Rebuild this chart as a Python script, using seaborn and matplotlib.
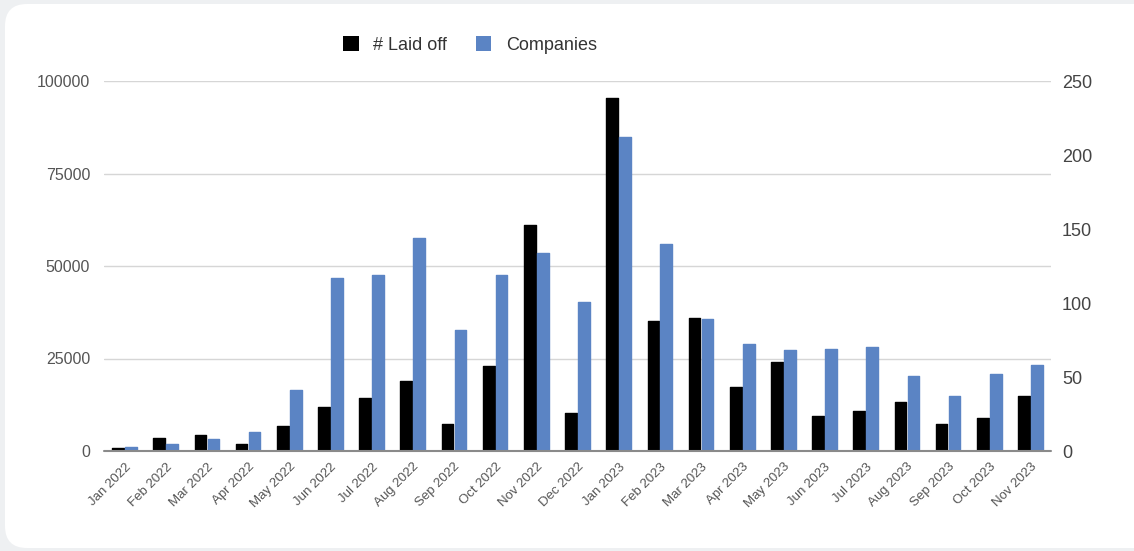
import pandas as pd
import seaborn as sns
import matplotlib.pyplot as plt
from matplotlib.patches import FancyBboxPatch, Patch

sns.set_theme(style="white")
plt.rcParams["font.family"] = ["Liberation Sans", "DejaVu Sans"]

months = ["Jan 2022", "Feb 2022", "Mar 2022", "Apr 2022", "May 2022", "Jun 2022",
          "Jul 2022", "Aug 2022", "Sep 2022", "Oct 2022", "Nov 2022", "Dec 2022",
          "Jan 2023", "Feb 2023", "Mar 2023", "Apr 2023", "May 2023", "Jun 2023",
          "Jul 2023", "Aug 2023", "Sep 2023", "Oct 2023", "Nov 2023"]
laid_off = [700, 3400, 4300, 1800, 6700, 11900, 14400, 18900, 7400, 23100, 61200, 10400,
            95400, 35100, 36000, 17200, 24100, 9500, 10700, 13200, 7400, 8800, 14800]
companies = [3, 5, 8, 13, 41, 117, 119, 144, 82, 119, 134, 101,
             212, 140, 89, 72, 68, 69, 70, 51, 37, 52, 58]

series = ["# Laid off", "Companies"]
colors = {"# Laid off": "#000000", "Companies": "#5b84c4"}

df_laid = pd.DataFrame({"month": months, "value": laid_off, "series": series[0]})
df_comp = pd.DataFrame({"month": months, "value": companies, "series": series[1]})

fig = plt.figure(figsize=(11.34, 5.51), dpi=100)
fig.patch.set_facecolor("#eef0f2")

# white card behind the chart
bg = fig.add_axes([0, 0, 1, 1], zorder=-10)
bg.set_xlim(0, 1134)
bg.set_ylim(551, 0)
bg.axis("off")
bg.add_patch(FancyBboxPatch((5, 4), 1160, 544, boxstyle="round,pad=0,rounding_size=22",
                            facecolor="white", edgecolor="none"))

ax = fig.add_axes([104 / 1134, 1 - 451 / 551, (1051 - 104) / 1134, 370 / 551])
ax.patch.set_alpha(0)
ax2 = ax.twinx()

sns.barplot(data=df_laid, x="month", y="value", hue="series", hue_order=series,
            order=months, palette=colors, width=0.63, gap=0.1, dodge=True, ax=ax,
            legend=False, saturation=1)
sns.barplot(data=df_comp, x="month", y="value", hue="series", hue_order=series,
            order=months, palette=colors, width=0.63, gap=0.1, dodge=True, ax=ax2,
            legend=False, saturation=1)

# slightly rounded bar corners
for a in (ax, ax2):
    for bar in a.patches:
        bar.set_edgecolor(bar.get_facecolor())
        bar.set_linewidth(1.0)
        bar.set_joinstyle("round")

ax.set_ylim(0, 100000)
ax2.set_ylim(0, 250)
ax.set_yticks([0, 25000, 50000, 75000, 100000])
ax2.set_yticks([0, 50, 100, 150, 200, 250])
ax.set_xlim(-0.5, len(months) - 0.5)

ax.yaxis.grid(True, color="#d6d6d6", linewidth=1)
ax.set_axisbelow(True)
ax2.grid(False)
for a in (ax, ax2):
    for s in a.spines.values():
        s.set_visible(False)
    a.set_xlabel("")
    a.set_ylabel("")
ax2.axhline(0, color="#8a8a8a", linewidth=1.5, zorder=5, clip_on=False)

ax.tick_params(axis="y", length=0, pad=10, labelsize=11.5, labelcolor="#555555")
ax2.tick_params(axis="y", length=0, pad=8, labelsize=13, labelcolor="#444444")
ax.tick_params(axis="x", length=0, pad=7, labelsize=9.5, labelcolor="#555555")
ax.set_xticks(range(len(months)))
ax.set_xticklabels(months, rotation=45, ha="right", rotation_mode="anchor")
ax2.tick_params(axis="x", length=0)

handles = [Patch(facecolor=colors[s], edgecolor="none") for s in series]
fig.legend(handles, series, loc="center", bbox_to_anchor=(470 / 1134, 1 - 45 / 551),
           ncol=2, frameon=False, fontsize=13, handlelength=0.85, handleheight=0.85,
           columnspacing=1.6, handletextpad=0.8, labelcolor="#333333")

fig.savefig("out.png", dpi=100, facecolor=fig.get_facecolor())
